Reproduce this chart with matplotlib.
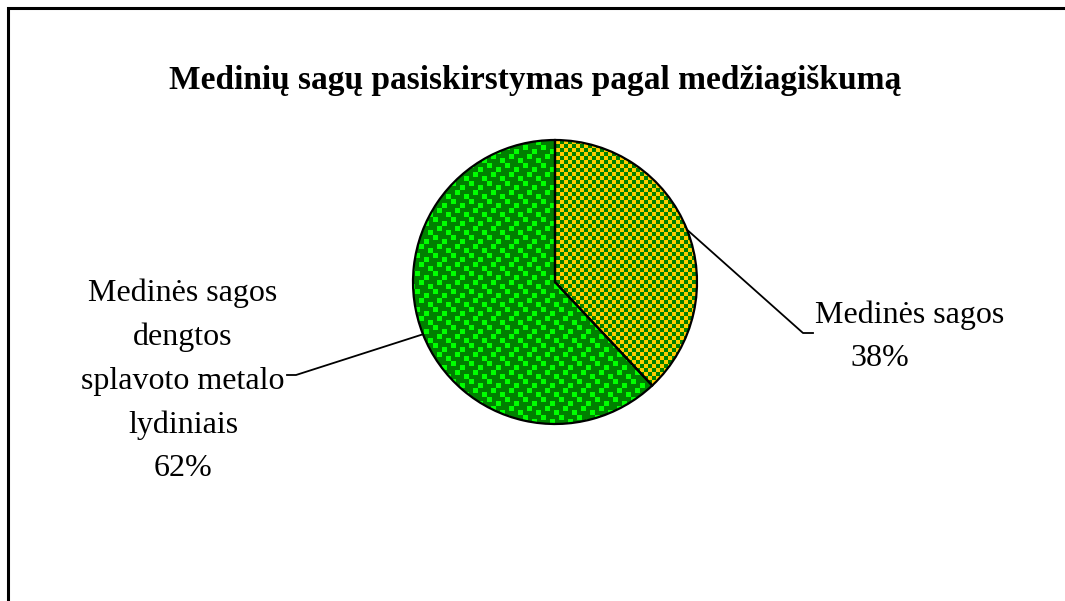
import numpy as np
import matplotlib.pyplot as plt
from matplotlib.colors import to_rgb
from matplotlib.patches import Rectangle

W, H = 1065, 601

title = 'Medinių sagų pasiskirstymas pagal medžiagiškumą'
labels = ['Medinės sagos', 'Medinės sagos\ndengtos\nsplavoto metalo\nlydiniais']
shares = [38, 62]

GREEN = '#008000'
GOLD = '#ffcc00'
LIME = '#00ff00'

plt.rcParams['font.family'] = ['Liberation Serif', 'DejaVu Serif']


def checker(h, w, cell=4):
    yy, xx = np.mgrid[0:h, 0:w]
    mask = ((xx // cell) + (yy // cell)) % 2 == 0
    img = np.empty((h, w, 3))
    img[:] = to_rgb(GREEN)
    img[mask] = to_rgb(GOLD)
    return img


def confetti(h, w, size=5, period=18):
    tile = np.zeros((period, period), bool)
    for x0, y0 in [(1, 1), (10, 5), (5, 10), (14, 14)]:
        for dy in range(size):
            for dx in range(size):
                tile[(y0 + dy) % period, (x0 + dx) % period] = True
    mask = np.tile(tile, (h // period + 1, w // period + 1))[:h, :w]
    img = np.empty((h, w, 3))
    img[:] = to_rgb(GREEN)
    img[mask] = to_rgb(LIME)
    return img


fig = plt.figure(figsize=(W / 100, H / 100), dpi=100)
ax = fig.add_axes([0, 0, 1, 1])
ax.set_axis_off()

center = (555, H - 282)
radius = 142
wedges, _ = ax.pie(shares, center=center, radius=radius, startangle=90,
                   counterclock=False, frame=True,
                   wedgeprops=dict(facecolor='none', edgecolor='black',
                                   linewidth=1.6, zorder=3))

for wedge, fill in zip(wedges, [checker(H, W), confetti(H, W)]):
    im = ax.imshow(fill, extent=(0, W, 0, H), origin='upper',
                   interpolation='nearest', zorder=1)
    im.set_clip_path(wedge)

ax.set_xlim(0, W)
ax.set_ylim(0, H)
ax.set_aspect('equal')


def edge_point(wedge):
    mid = np.deg2rad((wedge.theta1 + wedge.theta2) / 2)
    return center[0] + radius * np.cos(mid), center[1] + radius * np.sin(mid)


# leader lines
ex, ey = edge_point(wedges[0])
ax.plot([ex, 803, 813], [ey, H - 333, H - 333], color='black', lw=1.3, zorder=4)
ex, ey = edge_point(wedges[1])
ax.plot([ex, 296, 287], [ey, H - 375, H - 375], color='black', lw=1.3, zorder=4)

ax.text(815, H - 323, labels[0], fontsize=23, ha='left', va='baseline')
ax.text(880, H - 366, f'{shares[0]}%', fontsize=23, ha='center', va='baseline')
ax.text(183, H - 381, f'{labels[1]}\n{shares[1]}%', fontsize=23, ha='center',
        va='center', multialignment='center', linespacing=1.65)

ax.text(535, H - 89, title, fontsize=24, fontweight='bold', ha='center',
        va='baseline')

ax.add_patch(Rectangle((7.5, -20), W + 20, H - 7.5 + 20, fill=False,
                       edgecolor='black', linewidth=2.2, zorder=5))

fig.savefig('out.png', dpi=100)
